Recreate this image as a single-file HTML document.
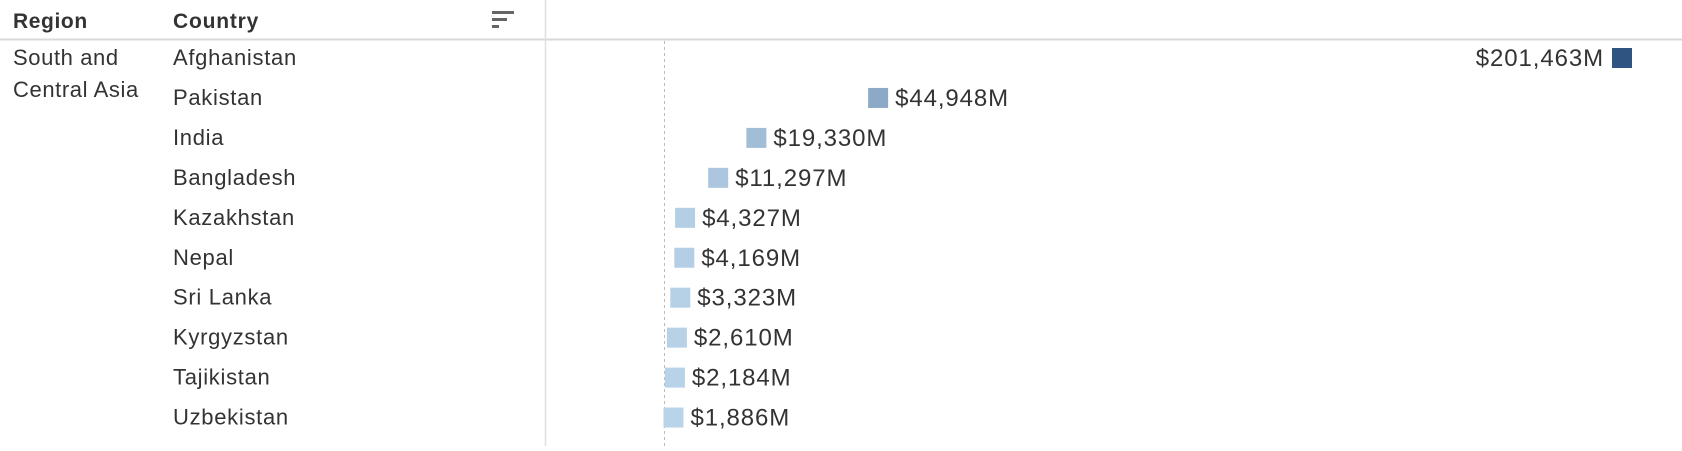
<!DOCTYPE html>
<html><head><meta charset="utf-8"><style>
body{margin:0;width:1682px;height:446px;background:#fff;overflow:hidden;font-family:"Liberation Sans",sans-serif;}
svg text{font-family:"Liberation Sans",sans-serif;}
</style></head><body>
<svg id="chart" width="1682" height="446">
<line x1="0" y1="39.5" x2="1682" y2="39.5" stroke="#d9d9d9" stroke-width="2"/>
<line x1="545.5" y1="0" x2="545.5" y2="446" stroke="#e0e0e0" stroke-width="1.5"/>
<text x="13" y="28" font-size="21" font-weight="bold" letter-spacing="0.6" fill="#333">Region</text>
<text x="173" y="28" font-size="21" font-weight="bold" letter-spacing="0.8" fill="#333">Country</text>
<g fill="#666">
<rect x="492" y="11" width="22" height="3"/><rect x="492" y="18" width="15" height="3"/><rect x="492" y="25" width="7" height="3"/>
</g>
<text x="13" y="65" font-size="22" letter-spacing="0.6" fill="#333">South and</text>
<text x="13" y="97" font-size="22" letter-spacing="0.6" fill="#333">Central Asia</text>
<g id="rows"></g>
</svg>
<script>
const countries=["Afghanistan","Pakistan","India","Bangladesh","Kazakhstan","Nepal","Sri Lanka","Kyrgyzstan","Tajikistan","Uzbekistan"];
const values=[201463,44948,19330,11297,4327,4169,3323,2610,2184,1886];
const labels=["$201,463M","$44,948M","$19,330M","$11,297M","$4,327M","$4,169M","$3,323M","$2,610M","$2,184M","$1,886M"];
const svgNS="http://www.w3.org/2000/svg";
const g=document.getElementById('rows');
const maxV=Math.max(...values);
const x=v=>664.5+v*(1622-664.5)/201463;
const y=i=>58+i*39.95;
function col(v){const t=Math.pow(v/maxV,0.7);const a=[190,216,236],b=[46,84,130];
return 'rgb('+a.map((c,k)=>Math.round(c+(b[k]-c)*t)).join(',')+')';}
const zl=document.createElementNS(svgNS,'line');
zl.setAttribute('x1',x(0));zl.setAttribute('x2',x(0));zl.setAttribute('y1',41);zl.setAttribute('y2',446);
zl.setAttribute('stroke','#bbb');zl.setAttribute('stroke-dasharray','3,3');


g.appendChild(zl);
countries.forEach((c,i)=>{
 const t=document.createElementNS(svgNS,'text');
 t.setAttribute('x',173);t.setAttribute('y',y(i)+7);t.setAttribute('font-size',22);t.setAttribute('letter-spacing','0.7');t.setAttribute('fill','#333');
 t.textContent=c;
 
 
 g.appendChild(t);
 const cx=x(values[i]);
 const r=document.createElementNS(svgNS,'rect');
 r.setAttribute('x',cx-10);r.setAttribute('y',y(i)-10);r.setAttribute('width',20);r.setAttribute('height',20);
 r.setAttribute('fill',col(values[i]));
 
 
 g.appendChild(r);
 const l=document.createElementNS(svgNS,'text');
 const left=cx>1400;
 l.setAttribute('x',left?cx-18:cx+17);l.setAttribute('y',y(i)+8);
 l.setAttribute('text-anchor',left?'end':'start');
 l.setAttribute('font-size',24);l.setAttribute('letter-spacing','0.9');l.setAttribute('fill','#333');
 l.textContent=labels[i];
 
 
 g.appendChild(l);
});
</script>
</body></html>
